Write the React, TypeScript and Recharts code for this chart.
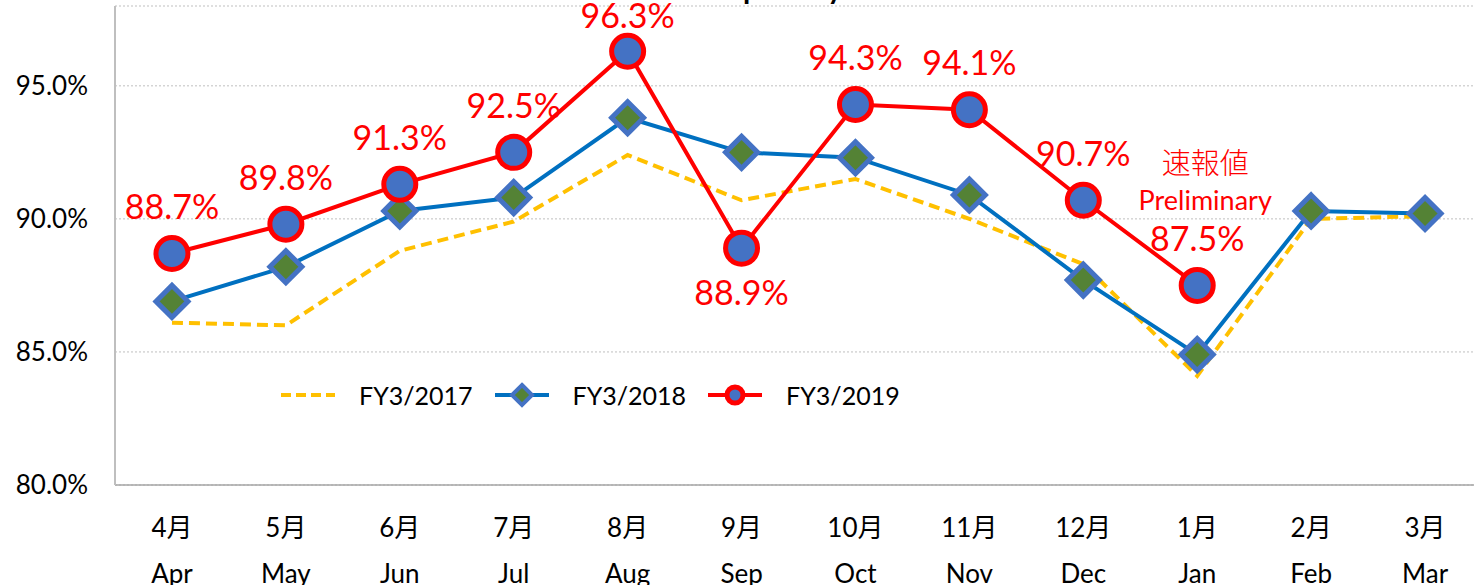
import React from "react";
import {
  LineChart,
  Line,
  XAxis,
  YAxis,
  CartesianGrid,
  Legend,
  LabelList,
} from "recharts";

// Month labels (two lines per tick)
const monthsJa = ["4月", "5月", "6月", "7月", "8月", "9月", "10月", "11月", "12月", "1月", "2月", "3月"];
const monthsEn = ["Apr", "May", "Jun", "Jul", "Aug", "Sep", "Oct", "Nov", "Dec", "Jan", "Feb", "Mar"];

// Occupancy rate (%) per fiscal year
const fy2017 = [86.1, 86.0, 88.8, 89.9, 92.4, 90.7, 91.5, 90.0, 88.3, 84.1, 90.0, 90.1];
const fy2018 = [86.9, 88.2, 90.3, 90.8, 93.8, 92.5, 92.3, 90.9, 87.7, 84.9, 90.3, 90.2];
const fy2019 = [88.7, 89.8, 91.3, 92.5, 96.3, 88.9, 94.3, 94.1, 90.7, 87.5, null, null];

const yTicks = [80, 85, 90, 95];
const labelBelowMonth = "Sep";
const preliminaryMonth = "Jan";

const FONT = "Lato, 'Noto Sans CJK JP', sans-serif";
const RED = "#FF0000";

const data = monthsEn.map((m, i) => ({
  en: m,
  ja: monthsJa[i],
  fy2017: fy2017[i],
  fy2018: fy2018[i],
  fy2019: fy2019[i],
}));

const MonthTick = (props: any) => {
  const { x, y, payload, index } = props;
  return (
    <g>
      <text x={x} y={y + 34} textAnchor="middle" dominantBaseline="central" fontSize={26} fontFamily={FONT} fill="#000">
        {monthsJa[index] ?? payload.value}
      </text>
      <text x={x} y={y + 80} textAnchor="middle" dominantBaseline="central" fontSize={26} fontFamily={FONT} fill="#000">
        {payload.value}
      </text>
    </g>
  );
};

const Diamond = (props: any) => {
  const { cx, cy } = props;
  if (cx == null || cy == null) return null;
  const r = 16;
  return (
    <polygon
      points={`${cx},${cy - r} ${cx + r},${cy} ${cx},${cy + r} ${cx - r},${cy}`}
      fill="#548235"
      stroke="#4472C4"
      strokeWidth={5}
    />
  );
};

const RingDot = (props: any) => {
  const { cx, cy, value } = props;
  if (cx == null || cy == null || value == null) return null;
  return <circle cx={cx} cy={cy} r={16} fill="#4472C4" stroke={RED} strokeWidth={5} />;
};

const ValueLabel = (props: any) => {
  const { x, y, value, index } = props;
  if (value == null) return null;
  const month = monthsEn[index];
  const txt = `${Number(value).toFixed(1)}%`;
  let cy = y - 48;
  if (month === labelBelowMonth) cy = y + 43;
  if (cy < 14) cy = 14;
  return (
    <g>
      {month === preliminaryMonth && (
        <>
          <text x={x + 8} y={y - 124} textAnchor="middle" dominantBaseline="central" fontSize={29} fontFamily="'Noto Sans CJK JP', sans-serif" fontWeight={300} fill={RED}>
            速報値
          </text>
          <text x={x + 8} y={y - 86} textAnchor="middle" dominantBaseline="central" fontSize={27} fontFamily={FONT} fill={RED}>
            Preliminary
          </text>
        </>
      )}
      <text x={x} y={cy} textAnchor="middle" dominantBaseline="central" fontSize={34} fontFamily={FONT} fill={RED}>
        {txt}
      </text>
    </g>
  );
};

const legendItems = [
  { key: "fy2017", name: "FY3/2017" },
  { key: "fy2018", name: "FY3/2018" },
  { key: "fy2019", name: "FY3/2019" },
];

const LegendIcon = ({ k }: { k: string }) => (
  <svg width={54} height={26} style={{ marginRight: 24 }}>
    {k === "fy2017" && (
      <line x1={0} y1={13} x2={54} y2={13} stroke="#FFC000" strokeWidth={4} strokeDasharray="10 5" />
    )}
    {k === "fy2018" && (
      <>
        <line x1={0} y1={13} x2={54} y2={13} stroke="#0070C0" strokeWidth={4} />
        <polygon points="27,3 37,13 27,23 17,13" fill="#548235" stroke="#4472C4" strokeWidth={4} />
      </>
    )}
    {k === "fy2019" && (
      <>
        <line x1={0} y1={13} x2={54} y2={13} stroke={RED} strokeWidth={4} />
        <circle cx={27} cy={13} r={8} fill="#4472C4" stroke={RED} strokeWidth={5} />
      </>
    )}
  </svg>
);

const CustomLegend = () => (
  <div style={{ display: "flex", alignItems: "center", fontFamily: FONT, fontSize: 25, color: "#000" }}>
    {legendItems.map((it) => (
      <div key={it.key} style={{ display: "flex", alignItems: "center", marginRight: 22 }}>
        <LegendIcon k={it.key} />
        <span>{it.name}</span>
      </div>
    ))}
  </div>
);

export default function App() {
  return (
    <div style={{ position: "absolute", left: 0, top: 0, width: 1474, height: 585, overflow: "hidden", background: "#fff" }}>
      <svg width={1474} height={40} style={{ position: "absolute", left: 0, top: 0, pointerEvents: "none" }}>
        <text x={650} y={-3} fontSize={40} fontFamily={FONT} fill="#000">
          Occupancy
        </text>
      </svg>
      <LineChart width={1490} height={585} data={data} margin={{ top: 6, right: 8, bottom: 0, left: 0 }}>
        <CartesianGrid vertical={false} stroke="#BFBFBF" strokeDasharray="2 2" />
        <XAxis
          dataKey="en"
          scale="band"
          height={100}
          tickLine={false}
          axisLine={{ stroke: "#A6A6A6", strokeWidth: 1.5 }}
          tick={<MonthTick />}
          interval={0}
        />
        <YAxis
          domain={[80, 98]}
          ticks={yTicks}
          width={115}
          tickLine={false}
          tickSize={0}
          tickMargin={27}
          axisLine={{ stroke: "#BFBFBF", strokeWidth: 2 }}
          tickFormatter={(v: number) => `${v.toFixed(1)}%`}
          tick={{ fontSize: 26, fontFamily: FONT, fill: "#000" }}
        />
        <Legend
          layout="horizontal"
          verticalAlign="middle"
          align="center"
          content={<CustomLegend />}
          wrapperStyle={{ position: "absolute", left: 281, top: 380, width: "auto" }}
        />
        <Line
          dataKey="fy2017"
          name="FY3/2017"
          stroke="#FFC000"
          strokeWidth={4}
          strokeDasharray="11 6"
          dot={false}
          type="linear"
          isAnimationActive={false}
        />
        <Line
          dataKey="fy2018"
          name="FY3/2018"
          stroke="#0070C0"
          strokeWidth={4}
          dot={<Diamond />}
          type="linear"
          isAnimationActive={false}
        />
        <Line
          dataKey="fy2019"
          name="FY3/2019"
          stroke={RED}
          strokeWidth={4}
          dot={<RingDot />}
          type="linear"
          connectNulls={false}
          isAnimationActive={false}
        >
          <LabelList dataKey="fy2019" content={<ValueLabel />} />
        </Line>
      </LineChart>
    </div>
  );
}
